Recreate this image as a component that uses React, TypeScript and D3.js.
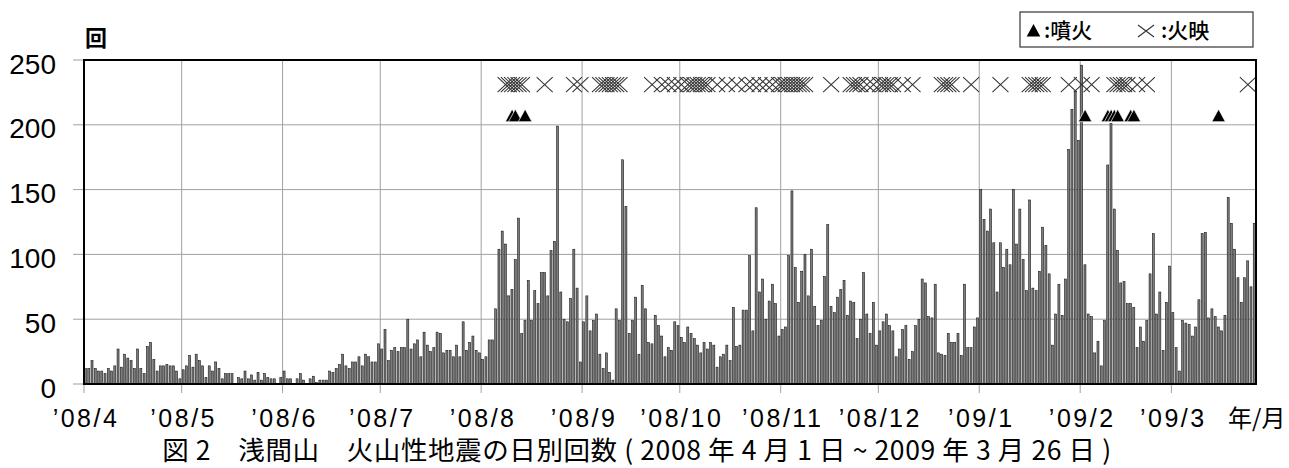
import * as d3 from 'd3'

// 浅間山 火山性地震の日別回数 2008/4/1 ~ 2009/3/26
const apr08 = [12, 12, 18, 12, 10, 10, 8, 12, 10, 14, 27, 13, 23, 20, 18, 12, 27, 12, 8, 29, 32, 19, 10, 14, 14, 15, 14, 14, 10, 4]
const may08 = [11, 14, 22, 13, 23, 18, 14, 5, 14, 10, 17, 12, 4, 8, 8, 8, 0, 5, 4, 10, 4, 7, 3, 9, 3, 8, 5, 4, 4, 0, 5]
const jun08 = [10, 4, 4, 0, 4, 8, 3, 0, 4, 6, 1, 3, 3, 3, 10, 9, 12, 15, 23, 14, 12, 17, 17, 21, 14, 23, 21, 17, 17, 31]
const jul08 = [27, 42, 18, 26, 28, 25, 28, 28, 50, 27, 31, 34, 21, 40, 30, 25, 28, 40, 39, 24, 26, 26, 21, 30, 21, 48, 26, 32, 37, 26, 24]
const aug08 = [19, 21, 34, 34, 58, 104, 118, 108, 68, 73, 96, 128, 39, 49, 80, 49, 72, 62, 86, 86, 68, 103, 110, 199, 71, 50, 48, 66, 104, 74, 17]
const sep08 = [48, 68, 41, 49, 54, 23, 12, 24, 9, 3, 58, 49, 173, 137, 39, 49, 67, 23, 76, 58, 32, 31, 53, 45, 37, 21, 28, 26, 48, 45]
const oct08 = [36, 32, 44, 39, 35, 30, 24, 32, 27, 32, 30, 13, 21, 23, 30, 18, 59, 29, 30, 57, 57, 99, 41, 136, 71, 81, 50, 64, 77, 62, 37]
const nov08 = [42, 44, 99, 149, 90, 63, 87, 100, 68, 104, 60, 45, 49, 83, 123, 60, 55, 67, 73, 80, 53, 64, 63, 35, 50, 86, 54, 39, 63, 30]
const dec08 = [41, 48, 54, 45, 41, 21, 27, 42, 45, 19, 25, 45, 50, 81, 78, 52, 51, 77, 24, 23, 22, 39, 32, 32, 39, 22, 77, 28, 28, 44, 51]
const jan09 = [150, 127, 118, 135, 109, 71, 109, 90, 104, 92, 150, 108, 135, 96, 72, 142, 74, 72, 87, 121, 107, 85, 30, 54, 77, 53, 81, 181, 212, 226, 188]
const feb09 = [246, 92, 54, 52, 24, 33, 14, 49, 169, 201, 135, 103, 78, 79, 62, 62, 59, 28, 44, 33, 49, 85, 116, 54, 71, 26, 63, 91]
const mar09 = [55, 28, 10, 49, 47, 46, 37, 44, 65, 116, 117, 51, 58, 52, 44, 41, 53, 144, 124, 104, 82, 63, 82, 95, 75, 124]

// 噴火 (▲) の日
const eruptAug08 = [10, 11, 14]
const eruptFeb09 = [2, 9, 10, 11, 12, 16, 17]
const eruptMar09 = [15]

// 火映 (×) の日
const glowAug08 = [8, 9, 10, 11, 12, 13, 20, 29, 31]
const glowSep08 = [6, 7, 8, 9, 10, 11, 12, 22, 25, 27, 29]
const glowOct08 = [1, 3, 4, 5, 6, 7, 8, 9, 12, 15, 18, 21, 23, 25, 27, 29, 31]
const glowNov08 = [1, 2, 3, 4, 5, 6, 7, 8, 16, 22, 23, 24, 25, 27, 29]
const glowDec08 = [1, 2, 3, 4, 5, 8, 11, 20, 21, 22, 23, 29]
const glowJan09 = [7, 16, 17, 18, 19, 20, 28]
const glowFeb09 = [1, 4, 11, 12, 13, 14, 15, 18, 21]
const glowMar09 = [24]

const xLabels = ['’08/4', '’08/5', '’08/6', '’08/7', '’08/8', '’08/9', '’08/10', '’08/11', '’08/12', '’09/1', '’09/2', '’09/3']
const yTicks = [0, 50, 100, 150, 200, 250]

const DAY = 864e5
const START = Date.UTC(2008, 3, 1)
const END = Date.UTC(2009, 2, 27)

const counts = [...apr08, ...may08, ...jun08, ...jul08, ...aug08, ...sep08, ...oct08, ...nov08, ...dec08, ...jan09, ...feb09, ...mar09]

const toDates = (y: number, m: number, days: number[]) => days.map(d => new Date(Date.UTC(y, m - 1, d)))

const eruptions = [...toDates(2008, 8, eruptAug08), ...toDates(2009, 2, eruptFeb09), ...toDates(2009, 3, eruptMar09)]
const glows = [
  ...toDates(2008, 8, glowAug08), ...toDates(2008, 9, glowSep08), ...toDates(2008, 10, glowOct08),
  ...toDates(2008, 11, glowNov08), ...toDates(2008, 12, glowDec08), ...toDates(2009, 1, glowJan09),
  ...toDates(2009, 2, glowFeb09), ...toDates(2009, 3, glowMar09),
]

const LEFT = 84
const RIGHT = 1256
const TOP = 60
const BOTTOM = 384

const crossPath = 'M-8,-7.5L8,7.5M-8,7.5L8,-7.5'
const triPath = 'M0,-6.6L6.8,6L-6.8,6Z'

export default function App() {
  const x = d3.scaleUtc().domain([new Date(START), new Date(END)]).range([LEFT, RIGHT])
  const y = d3.scaleLinear().domain([0, 250]).range([BOTTOM, TOP])

  const months = d3.utcMonth.range(new Date(START), new Date(END))
  const slot = x(new Date(START + DAY)) - x(new Date(START))
  const center = (d: Date) => x(d) + slot / 2

  return (
    <svg width={1289} height={468} style={{ position: 'absolute', left: 0, top: 0, background: '#fff' }}>
      {/* grid */}
      <g stroke="#a0a0a0" strokeWidth={1}>
        {yTicks.map(t => (
          <line key={'h' + t} x1={73} x2={RIGHT} y1={y(t)} y2={y(t)} />
        ))}
        {months.map((m, i) => (
          <line key={'v' + i} x1={x(m)} x2={x(m)} y1={TOP} y2={393} />
        ))}
      </g>

      {/* bars */}
      <g fill="#7c7c7c" stroke="#111" strokeWidth={0.55}>
        {counts.map((v, i) => {
          const d = new Date(START + i * DAY)
          const x0 = x(d)
          return v > 0 ? (
            <rect key={i} x={x0 + slot * 0.15} y={y(v)} width={slot * 0.62} height={BOTTOM - y(v)} />
          ) : null
        })}
      </g>

      {/* 火映 */}
      <g fill="none" stroke="#333" strokeWidth={1.05}>
        {glows.map((d, i) => (
          <path key={i} d={crossPath} transform={`translate(${center(d)},${y(231)})`} />
        ))}
      </g>

      {/* 噴火 */}
      <g fill="#000" stroke="#fff" strokeWidth={0.7}>
        {eruptions.map((d, i) => (
          <path key={i} d={triPath} transform={`translate(${center(d)},${y(207)})`} />
        ))}
      </g>

      {/* frame */}
      <g stroke="#000" strokeWidth={2} fill="none">
        <line x1={LEFT - 1} x2={RIGHT + 1} y1={TOP} y2={TOP} />
        <line x1={LEFT} x2={LEFT} y1={TOP} y2={BOTTOM} />
        <line x1={RIGHT} x2={RIGHT} y1={TOP} y2={BOTTOM} />
        <line x1={LEFT - 1} x2={RIGHT + 1} y1={BOTTOM} y2={BOTTOM} />
      </g>

      {/* y labels */}
      <g fontFamily="'Liberation Sans', Arial, sans-serif" fontSize={28} textAnchor="end" fill="#000">
        {yTicks.map(t => (
          <text key={t} x={56} y={y(t) + 13.5}>{t}</text>
        ))}
      </g>
      <text x={85} y={46} fontFamily="'Noto Sans CJK JP', sans-serif" fontSize={22} fontWeight={700}>回</text>

      {/* x labels */}
      <g fontFamily="'Liberation Sans', Arial, sans-serif" fontSize={25} letterSpacing={2.5} textAnchor="middle" fill="#000">
        {months.map((m, i) => (
          <text key={i} x={x(m) + 2} y={427}>{xLabels[i]}</text>
        ))}
      </g>
      <text x={1228} y={427} fontFamily="'Noto Sans CJK JP', sans-serif" fontSize={24}>年/月</text>

      {/* legend */}
      <rect x={1020} y={12} width={233} height={35} fill="#fff" stroke="#444" strokeWidth={1.3} />
      <path d={triPath} transform="translate(1033.5,30.5)" fill="#000" />
      <text x={1044} y={38} fontFamily="'Noto Sans CJK JP', sans-serif" fontSize={21} fontWeight={500}>:噴火</text>
      <path d="M-8,-6L8,6M-8,6L8,-6" transform="translate(1146,31)" fill="none" stroke="#333" strokeWidth={1.1} />
      <text x={1161} y={38} fontFamily="'Noto Sans CJK JP', sans-serif" fontSize={21} fontWeight={500}>:火映</text>

      {/* caption */}
      <text x={637} y={460} textAnchor="middle" fontFamily="'Noto Sans CJK JP', sans-serif" fontSize={26.5} letterSpacing={0.6}>
        図 2　浅間山　火山性地震の日別回数 ( 2008 年 4 月 1 日 ~ 2009 年 3 月 26 日 )
      </text>
    </svg>
  )
}
